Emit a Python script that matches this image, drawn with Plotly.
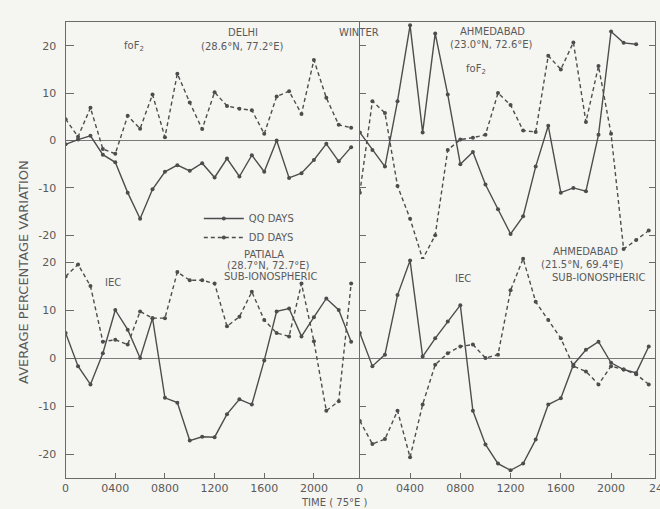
import plotly.graph_objects as go

# ---------------- data (hour of day, 75°E time) ----------------
hours = list(range(24))

# Top-left: DELHI foF2
delhi_qq = [-0.8, 0.2, 1.0, -3.0, -4.6, -11.0, -16.5, -10.3, -6.6, -5.2, -6.4, -4.8,
            -7.8, -3.8, -7.6, -3.1, -6.6, 0.0, -7.9, -6.9, -4.1, -0.7, -4.4, -1.4]
delhi_dd = [4.5, 0.8, 6.9, -1.8, -2.8, 5.2, 2.5, 9.7, 0.7, 14.1, 8.0, 2.4,
            10.2, 7.3, 6.7, 6.4, 1.4, 9.3, 10.4, 5.6, 17.0, 9.0, 3.3, 2.7]

# Top-right: AHMEDABAD foF2
ahm_fof2_qq = [1.7, -2.0, -5.5, 8.3, 24.3, 1.7, 22.6, 9.7, -5.0, -2.4, -9.3, -14.5,
               -19.7, -16.0, -5.5, 3.1, -11.0, -10.0, -10.7, 1.2, 23.0, 20.6, 20.3, None]
ahm_fof2_dd = [-11.0, 8.3, 5.8, -9.6, -16.5, -25.0, -20.0, -2.0, 0.2, 0.6, 1.2, 10.0,
               7.5, 2.1, 1.8, 17.9, 15.0, 20.7, 3.9, 15.7, 1.4, -22.9, -21.0, -19.0]

# Bottom-left: PATIALA IEC (sub-ionospheric)
patiala_qq = [5.2, -1.7, -5.5, 1.0, 10.0, 5.9, 0.0, 8.3, -8.3, -9.3, -17.2, -16.4,
              -16.5, -11.7, -8.6, -9.7, -0.5, 9.7, 10.3, 4.5, 8.5, 12.4, 10.0, 3.4]
patiala_dd = [17.0, 19.5, 15.0, 3.4, 3.8, 2.8, 9.7, 8.3, 8.3, 17.9, 16.2, 16.2,
              15.5, 6.6, 8.6, 13.8, 7.9, 5.2, 4.5, 15.5, 3.5, -11.0, -9.0, 15.5]

# Bottom-right: AHMEDABAD IEC (sub-ionospheric)
ahm_iec_qq = [5.2, -1.7, 0.7, 13.1, 20.3, 0.3, 4.1, 7.6, 11.0, -11.0, -18.0, -22.0,
              -23.4, -22.0, -17.0, -9.7, -8.4, -1.4, 1.7, 3.4, -1.0, -2.4, -3.1, 2.4]
ahm_iec_dd = [-13.1, -17.9, -16.9, -11.0, -20.7, -9.7, -1.4, 1.0, 2.4, 2.8, 0.0, 0.7,
              14.1, 20.7, 11.7, 7.9, 4.1, -1.7, -2.8, -5.5, -1.7, -2.4, -3.4, -5.5]

x_tickvals = [0, 4, 8, 12, 16, 20]
x_ticktext = ["0", "0400", "0800", "1200", "1600", "2000"]
x_last_label = "2400"
y_tickvals = [-20, -10, 0, 10, 20]
y_ticktext = ["-20", "-10", "0", "10", "20"]

series_names = ["QQ DAYS", "DD DAYS"]

# ---------------- styling ----------------
W, H = 660, 509
INK = "#4d4d4d"
TXT = "#5a5a5a"
BG = "#f5f5f2"
FONT = "DejaVu Sans"


def px(x):
    return x / W


def py(y):
    return 1 - y / H


fig = go.Figure()

panels = [
    ("x", "y", delhi_qq, delhi_dd, True),
    ("x2", "y2", ahm_fof2_qq, ahm_fof2_dd, False),
    ("x3", "y3", patiala_qq, patiala_dd, False),
    ("x4", "y4", ahm_iec_qq, ahm_iec_dd, False),
]
for xa, ya, qq, dd, show in panels:
    fig.add_trace(go.Scatter(
        x=hours, y=qq, xaxis=xa, yaxis=ya, mode="lines+markers",
        name=series_names[0], showlegend=show, connectgaps=False,
        line=dict(color=INK, width=1.4),
        marker=dict(color=INK, size=4, symbol="circle"),
    ))
    fig.add_trace(go.Scatter(
        x=hours, y=dd, xaxis=xa, yaxis=ya, mode="lines+markers",
        name=series_names[1], showlegend=show,
        line=dict(color=INK, width=1.4, dash="4px,3px"),
        marker=dict(color=INK, size=4, symbol="circle"),
    ))

left_dom = [px(62), px(358)]
right_dom = [px(358), px(655)]
top_dom = [py(259), py(22)]
bot_dom = [py(478), py(238)]

axis_common = dict(showgrid=False, linecolor="#6a6a6a", linewidth=1.2,
                   tickcolor="#6a6a6a", tickfont=dict(family=FONT, size=11, color=TXT))

top_x = dict(side="top", showline=True, ticks="", showticklabels=False, zeroline=False, **axis_common)
bot_x = dict(showline=True, ticks="inside", ticklen=5, tickvals=x_tickvals, ticktext=x_ticktext,
             zeroline=False, **axis_common)
left_y = dict(showline=True, ticks="inside", ticklen=8, tickvals=y_tickvals, ticktext=y_ticktext,
              range=[-25, 25], zeroline=True, zerolinecolor="#7a7a7a", zerolinewidth=1.2,
              ticklabelstandoff=6, **axis_common)
right_y = dict(showline=True, mirror="ticks", ticks="inside", ticklen=6, tickvals=y_tickvals,
               showticklabels=False, range=[-25, 25], zeroline=True, zerolinecolor="#7a7a7a",
               zerolinewidth=1.2, **axis_common)

fig.update_layout(
    width=W, height=H,
    margin=dict(l=0, r=0, t=0, b=0),
    paper_bgcolor=BG, plot_bgcolor="rgba(0,0,0,0)",
    font=dict(family=FONT, color=TXT, size=10),
    xaxis=dict(domain=left_dom, range=[0, 23.7], anchor="y", **top_x),
    yaxis=dict(domain=top_dom, anchor="x", **left_y),
    xaxis2=dict(domain=right_dom, range=[0, 23.5], anchor="y2", **top_x),
    yaxis2=dict(domain=top_dom, anchor="x2", **right_y),
    xaxis3=dict(domain=left_dom, range=[0, 23.7], anchor="y3", **bot_x),
    yaxis3=dict(domain=bot_dom, anchor="x3", **left_y),
    xaxis4=dict(domain=right_dom, range=[0, 23.5], anchor="y4", **bot_x),
    yaxis4=dict(domain=bot_dom, anchor="x4", **right_y),
    legend=dict(x=px(196), y=py(204), xanchor="left", yanchor="top",
                bgcolor="rgba(0,0,0,0)", font=dict(family=FONT, size=10, color=TXT),
                itemwidth=40, tracegroupgap=0),
    showlegend=True,
)


def note(text, x, y, size=10, angle=0, xanchor="center"):
    fig.add_annotation(text=text, x=px(x), y=py(y), xref="paper", yref="paper",
                       showarrow=False, textangle=angle, xanchor=xanchor, yanchor="middle",
                       font=dict(family=FONT, size=size, color=TXT))


note("foF<sub>2</sub>", 131, 47)
note("DELHI", 240, 33)
note("(28.6°N, 77.2°E)", 240, 46)
note("WINTER", 357, 32)
note("AHMEDABAD", 491, 31)
note("(23.0°N, 72.6°E)", 490, 44)
note("foF<sub>2</sub>", 475, 69)
note("IEC", 110, 282)
note("PATIALA", 262, 254)
note("(28.7°N, 72.7°E)", 266, 265)
note("SUB-IONOSPHERIC", 268, 276)
note("IEC", 462, 278)
note("AHMEDABAD", 585, 251)
note("(21.5°N, 69.4°E)", 582, 264)
note("SUB-IONOSPHERIC", 598, 277)
note("TIME ( 75°E )", 332, 502, size=10)
note("AVERAGE PERCENTAGE VARIATION", 19, 272, size=13, angle=-90)

# the last (2400) tick label of the right panel, cut by the page edge as in the original
note(x_last_label, 647, 488, size=11, xanchor="left")

fig.write_html(
    "out.html",
    config={"displayModeBar": False},
    post_script="document.body.style.margin='0';document.body.style.overflow='hidden';",
)
